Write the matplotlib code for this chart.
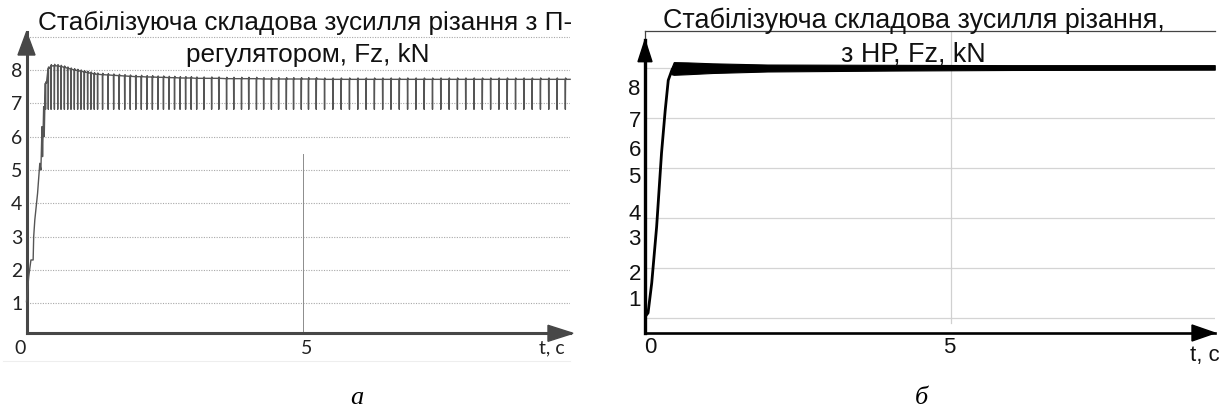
import numpy as np
import matplotlib
matplotlib.use('Agg')
import matplotlib.pyplot as plt
from matplotlib.patches import Polygon
from matplotlib.lines import Line2D
import matplotlib.transforms as mtransforms

W, H = 1230, 412

# ---------------- panel а: P-controller ----------------
rise_a_t = [0.00, 0.04, 0.08, 0.12, 0.13, 0.15, 0.20, 0.24, 0.26, 0.28, 0.29, 0.31, 0.32]
rise_a_v = [1.05, 1.80, 2.30, 2.30, 3.00, 3.50, 4.30, 5.20, 5.00, 6.30, 5.40, 6.90, 6.00]

tooth_t = [0.34, 0.39, 0.44, 0.50, 0.56, 0.62, 0.68, 0.74, 0.80, 0.86, 0.92, 0.98, 1.04, 1.10, 1.16, 1.22, 1.28,
           1.37, 1.47, 1.57, 1.67, 1.77, 1.87, 1.97, 2.07, 2.17, 2.27, 2.37, 2.47, 2.57, 2.67, 2.77, 2.87, 2.97, 3.07,
           3.20, 3.34, 3.47, 3.61, 3.74, 3.88, 4.01, 4.15, 4.28, 4.42, 4.55, 4.69, 4.82, 4.96, 5.09, 5.23,
           5.38, 5.53, 5.68, 5.83, 5.98, 6.13, 6.28, 6.43, 6.58, 6.73, 6.88, 7.03, 7.18, 7.33, 7.48, 7.63,
           7.78, 7.93, 8.08, 8.23, 8.38, 8.53, 8.68, 8.83, 8.98, 9.13, 9.28, 9.43, 9.58, 9.73]
tooth_top = [7.60, 8.05, 8.12, 8.13, 8.12, 8.10, 8.08, 8.05, 8.02, 8.00, 7.98, 7.96, 7.94, 7.92, 7.90, 7.88, 7.87,
             7.86, 7.85, 7.84, 7.83, 7.82, 7.81, 7.80, 7.80, 7.79, 7.79, 7.78, 7.78, 7.77, 7.77, 7.76, 7.76, 7.76, 7.75,
             7.75, 7.75, 7.75, 7.74, 7.74, 7.74, 7.74, 7.74, 7.73, 7.73, 7.73, 7.73, 7.73, 7.73, 7.73, 7.73,
             7.72, 7.72, 7.72, 7.72, 7.72, 7.72, 7.72, 7.72, 7.72, 7.72, 7.72, 7.72, 7.72, 7.72, 7.72, 7.72,
             7.72, 7.72, 7.72, 7.72, 7.72, 7.72, 7.72, 7.72, 7.72, 7.72, 7.72, 7.72, 7.72, 7.72]
tooth_low = 6.82
end_a_t, end_a_v = 9.82, 7.72

ytick_a = [1, 2, 3, 4, 5, 6, 7, 8]
xlab_a_pos = [-0.12, 5.06, 9.49]
xlab_a_txt = ['0', '5', 't, c']

# ---------------- panel б: neuro-controller ----------------
rise_b_t = [0.00, 0.05, 0.11, 0.19, 0.27, 0.33, 0.38, 0.44, 0.47]
rise_b_v = [0.37, 0.50, 1.49, 3.35, 5.79, 7.20, 8.20, 8.54, 8.62]
band_t = [0.43, 0.47, 0.70, 1.10, 2.00, 4.00, 6.00, 9.31]
band_hi = [8.60, 8.80, 8.79, 8.76, 8.72, 8.71, 8.70, 8.70]
band_lo = [8.40, 8.38, 8.40, 8.44, 8.49, 8.52, 8.54, 8.55]

grid_b = [0.32, 1.97, 3.63, 5.29, 6.94, 8.60]
ytick_b_pos = [0.99, 1.85, 3.01, 3.84, 5.07, 5.96, 6.92, 7.99]
ytick_b_txt = ['1', '2', '3', '4', '5', '6', '7', '8']
xlab_b_pos = [0.08, 4.97]
xlab_b_txt = ['0', '5']

title_a = ['Стабілізуюча складова зусилля різання з П-', 'регулятором, Fz, kN']
title_b = ['Стабілізуюча складова зусилля різання,', 'з НР, Fz, kN']

# ---------------- figure ----------------
fig = plt.figure(figsize=(W / 100, H / 100), dpi=100)
fig.patch.set_facecolor('white')


def add_px_axes(left, top, right, bottom):
    return fig.add_axes([left / W, 1 - bottom / H, (right - left) / W, (bottom - top) / H])


# ===== panel а =====
axc = '#474747'
ax = add_px_axes(26.5, 32, 570, 333.3)
ax.set_xlim(0, 9.818)
ax.set_ylim(0.10, 9.14)
for s in ['top', 'right']:
    ax.spines[s].set_visible(False)
for s in ['left', 'bottom']:
    ax.spines[s].set_color(axc)
    ax.spines[s].set_linewidth(2.2)
for v in list(ytick_a) + [9]:
    ax.axhline(v, color='#a8a8a8', lw=0.8, ls=(0, (1, 1.3)), zorder=1)
ax.plot([5, 5], [0.1, 5.48], color='#8c8c8c', lw=0.7, zorder=1)

xs = list(rise_a_t)
ys = list(rise_a_v)
for t, top in zip(tooth_t, tooth_top):
    xs += [t, t + 0.004, t + 0.008, t + 0.02]
    ys += [top, tooth_low, top + 0.04, top]
xs.append(end_a_t)
ys.append(end_a_v)
ax.plot(xs, ys, color='#555555', lw=1.0, zorder=3, clip_on=False)

ax.set_yticks(ytick_a)
ax.set_yticklabels([str(v) for v in ytick_a], family='Lato', fontsize=14)
ax.set_xticks([])
ax.tick_params(axis='y', length=0, pad=3, colors='#222222')
trans_a = mtransforms.blended_transform_factory(ax.transData, ax.transAxes)
for p, s in zip(xlab_a_pos, xlab_a_txt):
    ax.text(p, -0.049, s, transform=trans_a, ha='center', va='center',
            family='Lato', fontsize=14, color='#222222')
# arrows
axw, axh = 543.5, 301.3
ax.add_patch(Polygon([(0, 1.0), (-8.5 / axw, (333.3 - 55) / axh), (8.5 / axw, (333.3 - 55) / axh)],
                     closed=True, transform=ax.transAxes, color=axc, clip_on=False, zorder=5))
ax.add_patch(Polygon([((573 - 26.5) / axw, 0), ((548 - 26.5) / axw, 8 / axh), ((548 - 26.5) / axw, -8 / axh)],
                     closed=True, transform=ax.transAxes, color=axc, clip_on=False, zorder=5))

# ===== panel б =====
bx = add_px_axes(645, 30.7, 1215, 333)
bx.set_xlim(0, 9.314)
bx.set_ylim(-0.166, 9.84)
bx.spines['right'].set_visible(False)
bx.spines['top'].set_color('#444444')
bx.spines['top'].set_linewidth(0.9)
bx.spines['left'].set_color('#444444')
bx.spines['left'].set_linewidth(0.9)
bx.spines['bottom'].set_color('black')
bx.spines['bottom'].set_linewidth(1.9)
for v in grid_b:
    bx.axhline(v, color='#d4d4d4', lw=0.9, zorder=1)
bx.axvline(5, ymin=(0.166 + 0.166) / (9.84 + 0.166), color='#d0d0d0', lw=0.9, zorder=1)
bx.plot(rise_b_t, rise_b_v, color='black', lw=2.0, zorder=3, solid_capstyle='butt')
bx.fill_between(band_t, band_lo, band_hi, color='black', lw=0.8, zorder=3)

bxw, bxh = 570, 302.3
tipf = (333 - 40) / bxh
bx.plot([0, 0], [0, tipf], transform=bx.transAxes, color='black', lw=2.4, clip_on=False, zorder=5)
bx.add_patch(Polygon([(0, tipf), (-7 / bxw, (333 - 61.7) / bxh), (7 / bxw, (333 - 61.7) / bxh)],
                     closed=True, transform=bx.transAxes, color='black', clip_on=False, zorder=6))
bx.add_patch(Polygon([(1.0, 0), ((1192 - 645) / bxw, 8 / bxh), ((1192 - 645) / bxw, -8 / bxh)],
                     closed=True, transform=bx.transAxes, color='black', clip_on=False, zorder=6))
bx.set_yticks(ytick_b_pos)
bx.set_yticklabels(ytick_b_txt, family='Liberation Sans', fontsize=16)
bx.set_xticks([])
bx.tick_params(axis='y', length=0, pad=3, colors='#111111')
trans_b = mtransforms.blended_transform_factory(bx.transData, bx.transAxes)
for p, s in zip(xlab_b_pos, xlab_b_txt):
    bx.text(p, -0.048, s, transform=trans_b, ha='center', va='center',
            family='Liberation Sans', fontsize=16, color='#111111')
bx.text(9.15, -0.075, 't, c', transform=trans_b, ha='center', va='center',
        family='Liberation Sans', fontsize=16, color='#111111')

# ===== titles (fit widths) =====
renderer = fig.canvas.get_renderer()


def place(x, y, s, size, family='Liberation Sans', target=None, **kw):
    t = fig.text(x / W, 1 - y / H, s, fontsize=size, family=family, ha='center', va='baseline', **kw)
    if target is not None:
        w = t.get_window_extent(renderer=renderer).width
        t.set_fontsize(size * target / w)
    return t


ta = place(305.5, 30, title_a[0], 18, target=535, color='#111111')
place(307.5, 61.7, title_a[1], ta.get_fontsize(), color='#111111')
tb = place(914, 28.3, title_b[0], 16, target=502, color='#111111')
place(913, 61.7, title_b[1], tb.get_fontsize(), color='#111111')

# captions
fig.text(357 / W, 1 - 398 / H, 'а', family='Liberation Serif', style='italic', fontsize=19,
         ha='center', va='center')
fig.text(921.7 / W, 1 - 398 / H, 'б', family='Liberation Serif', style='italic', fontsize=19,
         ha='center', va='center')
# faint scan border line under panel а
fig.add_artist(Line2D([3 / W, 570 / W], [1 - 360.7 / H, 1 - 360.7 / H], color='#eeeeee', lw=0.8))

fig.savefig('out.png', dpi=100, facecolor='white')
